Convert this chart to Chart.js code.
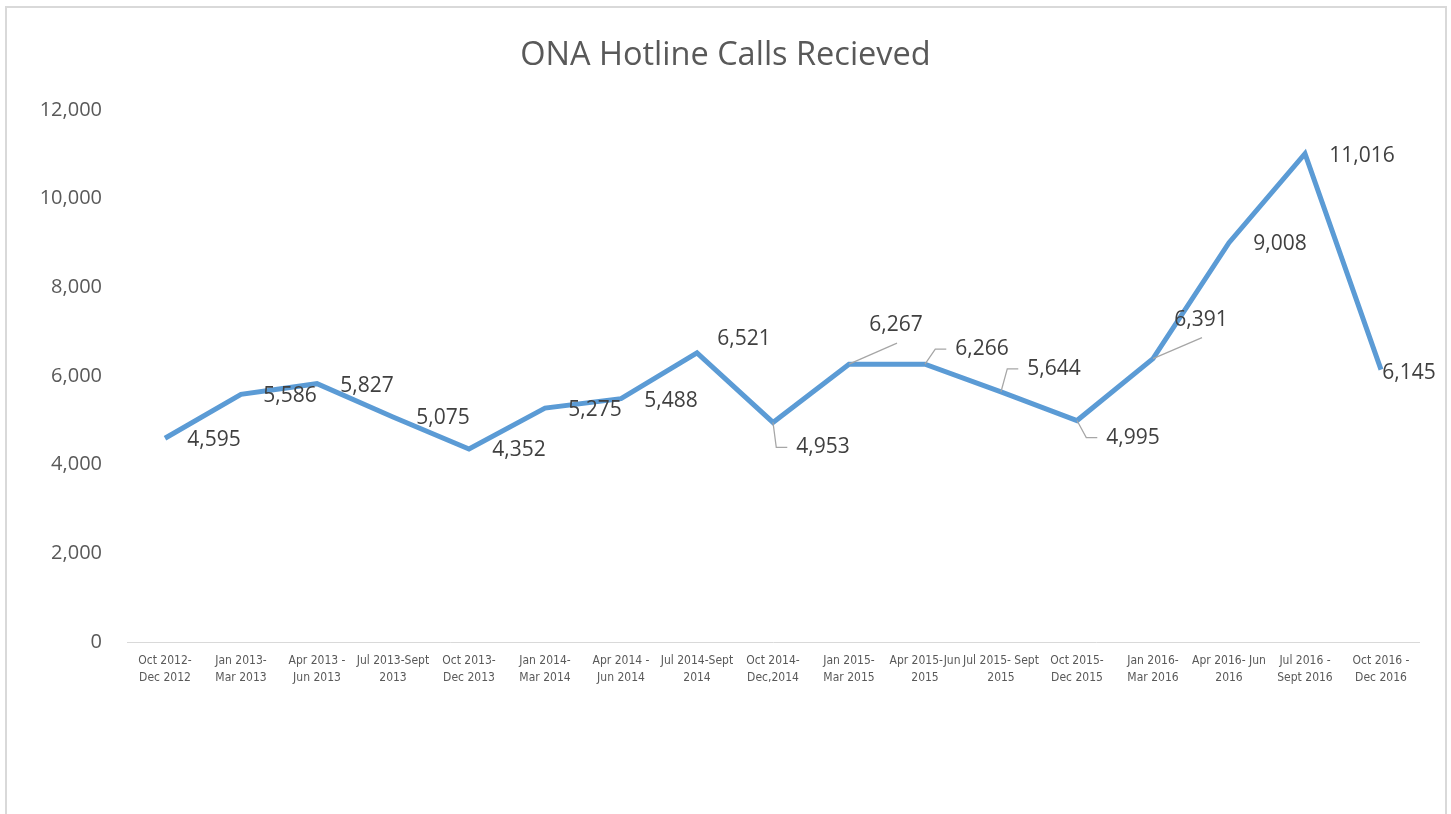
<!DOCTYPE html>
<html>
<head>
<meta charset="utf-8">
<title>ONA Hotline Calls Recieved</title>
<script src="https://cdn.jsdelivr.net/npm/chart.js@4"></script>
<style>
  html, body { margin: 0; padding: 0; background: #fff; overflow: hidden; }
  #frame {
    position: absolute; left: 5px; top: 6px;
    width: 1438px; height: 840px;
    border: 2px solid #d9d9d9;
  }
  #callsChart { position: absolute; left: 0; top: 0; }
</style>
</head>
<body>
<div id="frame"></div>
<canvas id="callsChart" width="1451" height="814"></canvas>
<script>
const periods = [
    ['Oct 2012-', 'Dec 2012'],
    ['Jan 2013-', 'Mar 2013'],
    ['Apr 2013 -', 'Jun 2013'],
    ['Jul 2013-Sept', '2013'],
    ['Oct 2013-', 'Dec 2013'],
    ['Jan 2014-', 'Mar 2014'],
    ['Apr 2014 -', 'Jun 2014'],
    ['Jul 2014-Sept', '2014'],
    ['Oct 2014-', 'Dec,2014'],
    ['Jan 2015-', 'Mar 2015'],
    ['Apr 2015-Jun', '2015'],
    ['Jul 2015- Sept', '2015'],
    ['Oct 2015-', 'Dec 2015'],
    ['Jan 2016-', 'Mar 2016'],
    ['Apr 2016- Jun', '2016'],
    ['Jul 2016 -', 'Sept 2016'],
    ['Oct 2016 -', 'Dec 2016']
];
const callsReceived = [4595, 5586, 5827, 5075, 4352, 5275, 5488, 6521, 4953, 6267, 6266, 5644, 4995, 6391, 9008, 11016, 6145];
const yMin = 0;
const yMax = 12000;
const yStep = 2000;

// where each value label sits relative to its point (Excel put some of them on leader lines)
const labelPlacement = [
    [49, 2], [49, 2], [50, 2], [50, 1], [50, 1], [50, 2], [50, 2], [47, -14],
    [50, 25, 'elbow'], [47, -39, 'line'], [57, -15, 'elbow'], [53, -23, 'elbow'],
    [56, 17, 'elbow'], [48, -39, 'line'], [51, 1], [57, 2], [28, 3]
];

const valueLabels = {
    id: 'valueLabels',
    afterDatasetsDraw(chart) {
        const ctx = chart.ctx;
        const meta = chart.getDatasetMeta(0);
        const values = chart.data.datasets[0].data;
        ctx.save();
        ctx.font = '21px "Open Sans"';
        ctx.textAlign = 'center';
        ctx.textBaseline = 'middle';
        ctx.strokeStyle = '#a6a6a6';
        ctx.lineWidth = 1.25;
        meta.data.forEach((pt, i) => {
            const [dx, dy, leader] = labelPlacement[i];
            const cx = pt.x + dx;
            const cy = pt.y + dy;
            const text = values[i].toLocaleString('en-US');
            const left = cx - ctx.measureText(text).width / 2;
            if (leader === 'elbow') {
                ctx.beginPath();
                ctx.moveTo(pt.x, pt.y);
                ctx.lineTo(left - 20, cy);
                ctx.lineTo(left - 9, cy);
                ctx.stroke();
            } else if (leader === 'line') {
                ctx.beginPath();
                ctx.moveTo(pt.x, pt.y);
                ctx.lineTo(cx + 1, cy + 18);
                ctx.stroke();
            }
            ctx.fillStyle = '#404040';
            ctx.fillText(text, cx, cy);
        });
        ctx.restore();
    }
};

const ctx = document.getElementById('callsChart').getContext('2d');
new Chart(ctx, {
    type: 'line',
    data: {
        labels: periods,
        datasets: [{
            label: 'Calls Recieved',
            data: callsReceived,
            borderColor: '#5b9bd5',
            borderWidth: 5,
            pointRadius: 0,
            pointHoverRadius: 0,
            tension: 0,
            fill: false
        }]
    },
    options: {
        responsive: false,
        animation: false,
        layout: {
            padding: { left: 16, right: 16, top: 0, bottom: 112 }
        },
        plugins: {
            legend: { display: false },
            tooltip: { enabled: false },
            title: {
                display: true,
                text: 'ONA Hotline Calls Recieved',
                color: '#595959',
                font: { family: '"Open Sans"', size: 32.5, weight: 'normal' },
                padding: { top: 36, bottom: 35 }
            }
        },
        scales: {
            x: {
                offset: true,
                grid: { display: false, drawTicks: false },
                border: { display: true, color: '#d9d9d9', width: 1 },
                ticks: {
                    autoSkip: false,
                    maxRotation: 0,
                    minRotation: 0,
                    padding: 10,
                    color: '#595959',
                    font: { family: '"Liberation Sans Narrow", "DejaVu Sans Condensed", "Open Sans"', size: 12, lineHeight: 1.45 }
                },
                afterFit(scale) { scale.height = 60; }
            },
            y: {
                min: yMin,
                max: yMax,
                grid: { display: false, drawTicks: false },
                border: { display: false },
                ticks: {
                    stepSize: yStep,
                    padding: 25,
                    color: '#595959',
                    font: { family: '"Open Sans"', size: 20 },
                    callback: v => v.toLocaleString('en-US')
                },
                afterFit(scale) { scale.width = 111; }
            },
            // empty right-hand gutter so the plot ends where Excel's did
            gutter: {
                position: 'right',
                grid: { display: false, drawTicks: false },
                border: { display: false },
                ticks: { display: false },
                afterFit(scale) { scale.width = 16; }
            }
        }
    },
    plugins: [valueLabels]
});
</script>
</body>
</html>
